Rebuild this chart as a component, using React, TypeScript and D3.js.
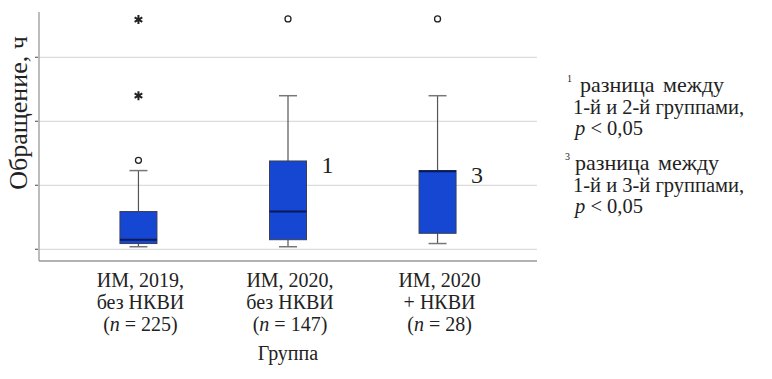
import React, { useEffect, useRef } from 'react';
import * as d3 from 'd3';

// group labels (3 lines each)
const groupLine1 = ['ИМ, 2019,', 'ИМ, 2020,', 'ИМ, 2020'];
const groupLine2 = ['без НКВИ', 'без НКВИ', '+ НКВИ'];
const groupN = ['225', '147', '28'];

// box statistics, hours
const whiskerLow = [0.4, 0.4, 0.9];
const q1 = [0.9, 1.5, 2.5];
const median = [1.5, 5.9, 12.2];
const q3 = [5.9, 13.8, 12.3];
const whiskerHigh = [12.3, 24.0, 24.0];
const outliers = [[13.9], [36.0], [36.0]];
const extremes = [[24.0, 35.9], [], []];
const sigMarks = ['', '1', '3'];

const yTicks = [0, 10, 20, 30];

const serif = '"Liberation Serif", "Times New Roman", serif';

export default function App() {
  const svgRef = useRef<SVGSVGElement>(null);

  useEffect(() => {
    const W = 772, H = 379;
    const left = 39, right = 537, top = 12, bottom = 261;
    const svg = d3.select(svgRef.current);
    svg.selectAll('*').remove();
    svg.attr('width', W).attr('height', H);

    const x = d3.scalePoint<string>()
      .domain(groupLine1.map((_, i) => String(i)))
      .range([left, right])
      .padding(0.665);

    const y = d3.scaleLinear().domain([0, 30]).range([249.3, 57.3]);

    // grid
    svg.append('g').selectAll('line')
      .data(yTicks)
      .enter().append('line')
      .attr('x1', left).attr('x2', right)
      .attr('y1', d => y(d)).attr('y2', d => y(d))
      .attr('stroke', '#dcdcdc').attr('stroke-width', 1.2);

    // ticks
    svg.append('g').selectAll('line')
      .data(yTicks)
      .enter().append('line')
      .attr('x1', left - 4).attr('x2', left - 1)
      .attr('y1', d => y(d)).attr('y2', d => y(d))
      .attr('stroke', '#666').attr('stroke-width', 1.2);

    // axes
    svg.append('line')
      .attr('x1', left).attr('x2', left).attr('y1', top).attr('y2', bottom)
      .attr('stroke', '#999').attr('stroke-width', 1.3);
    svg.append('line')
      .attr('x1', left).attr('x2', right).attr('y1', bottom).attr('y2', bottom)
      .attr('stroke', '#999').attr('stroke-width', 1.3);

    const boxW = 37, capW = 18;
    const g = svg.append('g');

    groupLine1.forEach((_, i) => {
      const cx = x(String(i)) as number;
      // whiskers
      g.append('line')
        .attr('x1', cx).attr('x2', cx)
        .attr('y1', y(whiskerLow[i])).attr('y2', y(q1[i]))
        .attr('stroke', '#555').attr('stroke-width', 1.2);
      g.append('line')
        .attr('x1', cx).attr('x2', cx)
        .attr('y1', y(q3[i])).attr('y2', y(whiskerHigh[i]))
        .attr('stroke', '#555').attr('stroke-width', 1.2);
      [whiskerLow[i], whiskerHigh[i]].forEach(v => {
        g.append('line')
          .attr('x1', cx - capW / 2).attr('x2', cx + capW / 2)
          .attr('y1', y(v)).attr('y2', y(v))
          .attr('stroke', '#777').attr('stroke-width', 1.5);
      });
      // box
      g.append('rect')
        .attr('x', cx - boxW / 2)
        .attr('y', y(q3[i]))
        .attr('width', boxW)
        .attr('height', y(q1[i]) - y(q3[i]))
        .attr('fill', '#1547d2')
        .attr('stroke', '#3a3f55').attr('stroke-width', 1);
      g.append('line')
        .attr('x1', cx - boxW / 2).attr('x2', cx + boxW / 2)
        .attr('y1', y(median[i])).attr('y2', y(median[i]))
        .attr('stroke', '#0b1a55').attr('stroke-width', 2);
      // outliers
      outliers[i].forEach(v => {
        g.append('circle')
          .attr('cx', cx).attr('cy', y(v)).attr('r', 3)
          .attr('fill', 'white').attr('stroke', '#222').attr('stroke-width', 1.3);
      });
      extremes[i].forEach(v => {
        g.append('path')
          .attr('transform', `translate(${cx},${y(v)})`)
          .attr('d', d3.symbol(d3.symbolAsterisk, 55)())
          .attr('fill', 'none').attr('stroke', '#222').attr('stroke-width', 2);
      });
      if (sigMarks[i]) {
        g.append('text')
          .attr('x', cx + boxW / 2 + 15)
          .attr('y', y(q3[i]) + 12)
          .attr('font-family', serif).attr('font-size', 24)
          .attr('fill', '#222')
          .text(sigMarks[i]);
      }
      // x labels
      const lab = svg.append('text')
        .attr('text-anchor', 'middle')
        .attr('font-family', serif).attr('font-size', 20)
        .attr('fill', '#222');
      lab.append('tspan').attr('x', cx + 2).attr('y', 287).text(groupLine1[i]);
      lab.append('tspan').attr('x', cx + 2).attr('y', 309).text(groupLine2[i]);
      const l3 = lab.append('tspan').attr('x', cx + 2).attr('y', 331);
      l3.text('(');
      lab.append('tspan').attr('font-style', 'italic').text('n');
      lab.append('tspan').text(` = ${groupN[i]})`);
    });

    svg.append('text')
      .attr('x', (x('1') as number))
      .attr('y', 360)
      .attr('text-anchor', 'middle')
      .attr('font-family', serif).attr('font-size', 20)
      .attr('fill', '#222')
      .text('Группа');

    svg.append('text')
      .attr('transform', 'translate(27,113) rotate(-90)')
      .attr('text-anchor', 'middle')
      .attr('font-family', serif).attr('font-size', 26)
      .attr('fill', '#222')
      .text('Обращение, ч');

    // legend notes
    const notes = [
      { sup: '1', other: '2', y0: 92, supX: 567, textX: 580 },
      { sup: '3', other: '3', y0: 170, supX: 565, textX: 575 }
    ];
    notes.forEach(nt => {
      svg.append('text')
        .attr('x', nt.supX).attr('y', nt.y0 - 10)
        .attr('font-family', serif).attr('font-size', 10)
        .attr('fill', '#222').text(nt.sup);
      svg.append('text')
        .attr('x', nt.textX).attr('y', nt.y0)
        .attr('font-family', serif).attr('font-size', 22)
        .attr('word-spacing', 3)
        .attr('fill', '#222').text('разница между');
      svg.append('text')
        .attr('x', 573).attr('y', nt.y0 + 21.5)
        .attr('font-family', serif).attr('font-size', 20.5)
        .attr('fill', '#222').text(`1-й и ${nt.other}-й группами,`);
      const p = svg.append('text')
        .attr('x', 575).attr('y', nt.y0 + 43)
        .attr('font-family', serif).attr('font-size', 20.5)
        .attr('fill', '#222');
      p.append('tspan').attr('font-style', 'italic').text('p');
      p.append('tspan').text(' < 0,05');
    });
  }, []);

  return (
    <svg
      ref={svgRef}
      style={{ position: 'absolute', left: 0, top: 0, background: 'white' }}
    />
  );
}
